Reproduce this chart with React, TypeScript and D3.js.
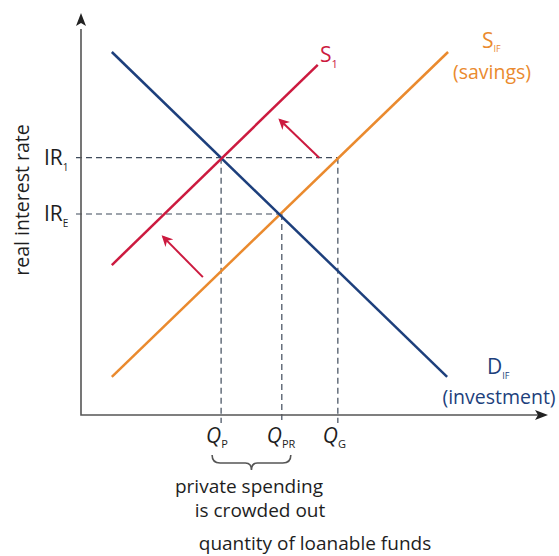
import { useEffect, useRef } from "react";
import * as d3 from "d3";

// curves in chart units (x: quantity 0-100, y: rate 0-100)
const demandIF: [number, number][] = [[6.6, 90.3], [78.4, 9.5]];
const supplyIF: [number, number][] = [[6.6, 9.5], [78.6, 90.3]];
const supply1: [number, number][] = [[6.6, 37.3], [50.7, 87.1]];

const rates = [64, 50];
const rateLabels = [["IR", "1"], ["IR", "E"]];
const rateEnds = [55, 43];

const quantities = [30, 43, 55];
const quantityLabels = [["Q", "P"], ["Q", "PR"], ["Q", "G"]];
const quantityTops = [64, 50, 64];

const shiftArrows: [number, number][][] = [
  [[51, 64], [42.6, 73.4]],
  [[26.1, 34.3], [17.6, 44.3]],
];

const W = 559;
const H = 556;
const font = "'Open Sans', 'Noto Sans', sans-serif";

const BLUE = "#1d3f7c";
const ORANGE = "#ea8a2e";
const RED = "#cc1a3f";
const DASH = "#3f4b5b";
const AXIS = "#555555";
const TEXT = "#1e1e1e";

export default function App() {
  const svgRef = useRef<SVGSVGElement | null>(null);

  useEffect(() => {
    if (!svgRef.current) return;
    const svg = d3.select(svgRef.current);
    svg.selectAll("*").remove();

    const x = d3.scaleLinear().domain([0, 100]).range([81, 548]);
    const y = d3.scaleLinear().domain([0, 100]).range([415, 13]);
    const line = d3
      .line<[number, number]>()
      .x((d) => x(d[0]))
      .y((d) => y(d[1]));

    const defs = svg.append("defs");
    defs
      .append("marker")
      .attr("id", "redHead")
      .attr("viewBox", "0 0 10 10")
      .attr("refX", 8)
      .attr("refY", 5)
      .attr("markerWidth", 5.5)
      .attr("markerHeight", 5.5)
      .attr("markerUnits", "strokeWidth")
      .attr("orient", "auto")
      .append("path")
      .attr("d", "M0,0 L10,5 L0,10 L3,5 Z")
      .attr("fill", RED);

    // dashed guides
    rates.forEach((r, i) => {
      svg
        .append("line")
        .attr("x1", x(0) - 5)
        .attr("x2", x(rateEnds[i]))
        .attr("y1", y(r))
        .attr("y2", y(r))
        .attr("stroke", DASH)
        .attr("stroke-width", 1.2)
        .attr("stroke-dasharray", "6,4");
    });
    quantities.forEach((q, i) => {
      svg
        .append("line")
        .attr("x1", x(q))
        .attr("x2", x(q))
        .attr("y1", y(quantityTops[i]))
        .attr("y2", y(0) + 8)
        .attr("stroke", DASH)
        .attr("stroke-width", 1.2)
        .attr("stroke-dasharray", "6,4");
    });

    // axes
    svg
      .append("path")
      .attr("d", `M${x(0)},${y(96)} L${x(0)},${y(0)} L${x(98)},${y(0)}`)
      .attr("fill", "none")
      .attr("stroke", AXIS)
      .attr("stroke-width", 1.6);
    svg
      .append("path")
      .attr("d", `M${x(0)},${y(100)} l-5,13 l5,-3 l5,3 Z`)
      .attr("fill", "#222");
    svg
      .append("path")
      .attr("d", `M${x(100)},${y(0)} l-13,-5 l3,5 l-3,5 Z`)
      .attr("fill", "#222");

    // curves
    const curves: [[number, number][], string][] = [
      [supplyIF, ORANGE],
      [demandIF, BLUE],
      [supply1, RED],
    ];
    curves.forEach(([pts, c]) => {
      svg
        .append("path")
        .attr("d", line(pts))
        .attr("fill", "none")
        .attr("stroke", c)
        .attr("stroke-width", 2.5);
    });

    // shift arrows
    shiftArrows.forEach((a) => {
      svg
        .append("path")
        .attr("d", line(a))
        .attr("fill", "none")
        .attr("stroke", RED)
        .attr("stroke-width", 2)
        .attr("marker-end", "url(#redHead)");
    });

    const sub = (
      g: d3.Selection<SVGTextElement, unknown, null, undefined>,
      main: string,
      s: string,
      size: number,
      subSize: number,
      dy: number,
      italic = false
    ) => {
      g.append("tspan")
        .text(main)
        .attr("font-size", size)
        .attr("font-style", italic ? "italic" : "normal");
      g.append("tspan").text(s).attr("font-size", subSize).attr("dy", dy);
    };

    // rate labels
    rates.forEach((r, i) => {
      const t = svg
        .append("text")
        .attr("x", 44)
        .attr("y", y(r) + 7)
        .attr("font-family", font)
        .attr("fill", TEXT);
      sub(t, rateLabels[i][0], rateLabels[i][1], 21, 10, 6);
    });

    // quantity labels
    quantities.forEach((q, i) => {
      const t = svg
        .append("text")
        .attr("x", x(q) - 15)
        .attr("y", 443)
        .attr("font-family", font)
        .attr("fill", TEXT);
      sub(t, quantityLabels[i][0], quantityLabels[i][1], 21, 11, 5, true);
    });

    // brace under crowded-out range
    const bx0 = x(quantities[0]) - 9;
    const bx1 = x(quantities[1]) + 9;
    const bm = (bx0 + bx1) / 2;
    svg
      .append("path")
      .attr(
        "d",
        `M${bx0},455 Q${bx0},463 ${bx0 + 8},463 L${bm - 6},463 Q${bm},463 ${bm},470 Q${bm},463 ${bm + 6},463 L${bx1 - 8},463 Q${bx1},463 ${bx1},455`
      )
      .attr("fill", "none")
      .attr("stroke", "#555")
      .attr("stroke-width", 1.6);

    // curve labels
    const s1 = svg.append("text").attr("x", 320).attr("y", 62).attr("font-family", font).attr("fill", RED);
    sub(s1, "S", "1", 21, 11, 6);
    const sif = svg.append("text").attr("x", 482).attr("y", 48).attr("font-family", font).attr("fill", ORANGE);
    sub(sif, "S", "IF", 21, 9, 4);
    svg
      .append("text")
      .attr("x", 492)
      .attr("y", 79)
      .attr("text-anchor", "middle")
      .attr("font-family", font)
      .attr("font-size", 19.5)
      .attr("fill", ORANGE)
      .text("(savings)");
    const dif = svg.append("text").attr("x", 487).attr("y", 374).attr("font-family", font).attr("fill", BLUE);
    sub(dif, "D", "IF", 21, 9, 5);
    svg
      .append("text")
      .attr("x", 499)
      .attr("y", 404)
      .attr("text-anchor", "middle")
      .attr("font-family", font)
      .attr("font-size", 19.5)
      .attr("fill", BLUE)
      .text("(investment)");

    // axis titles and notes
    svg
      .append("text")
      .attr("transform", `translate(29,200) rotate(-90)`)
      .attr("text-anchor", "middle")
      .attr("font-family", font)
      .attr("font-size", 19.5)
      .attr("fill", TEXT)
      .text("real interest rate");
    const note = [
      ["private spending", 249, 493],
      ["is crowded out", 260, 517],
      ["quantity of loanable funds", 315, 550],
    ] as const;
    note.forEach(([txt, cx, cy]) => {
      svg
        .append("text")
        .attr("x", cx)
        .attr("y", cy)
        .attr("text-anchor", "middle")
        .attr("font-family", font)
        .attr("font-size", 19)
        .attr("fill", TEXT)
        .text(txt);
    });
  }, []);

  return (
    <svg
      ref={svgRef}
      width={W}
      height={H}
      style={{ position: "absolute", left: 0, top: 0, background: "#fff" }}
    />
  );
}
